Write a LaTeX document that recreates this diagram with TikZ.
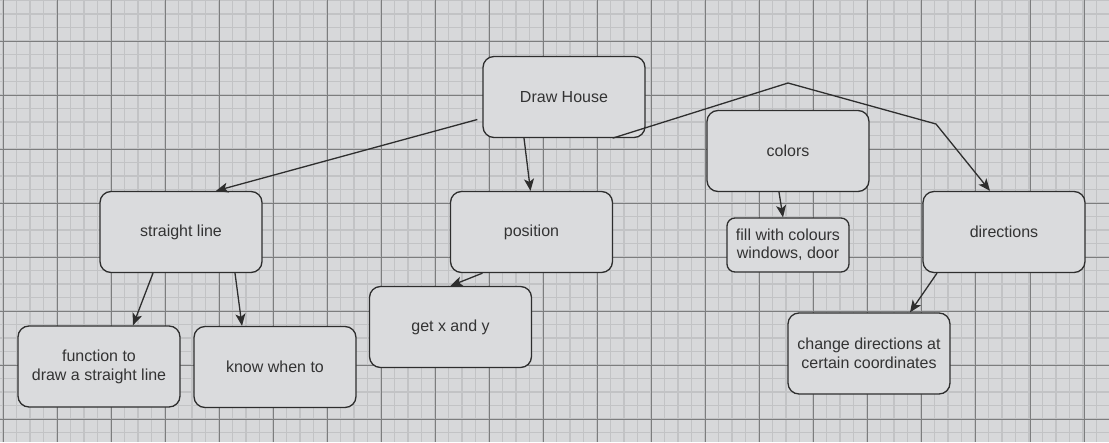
\documentclass[tikz,border=0pt]{standalone}
\usepackage{fontspec}
\setmainfont{Liberation Sans}
\usetikzlibrary{calc,arrows.meta}
\definecolor{bgc}{HTML}{D7D8DA}
\definecolor{boxc}{HTML}{DADBDD}
\definecolor{minorc}{HTML}{C2C3C5}
\definecolor{majorc}{HTML}{7C7D7E}
\definecolor{edgec}{HTML}{2E2E2E}
\definecolor{txtc}{HTML}{333333}
\tikzset{
  box/.style={draw=edgec, line width=1.3pt, fill=boxc, rounded corners=11pt,
    minimum width=162pt, minimum height=81pt, inner sep=0pt, align=center,
    text=txtc, font=\fontsize{16pt}{19pt}\selectfont},
  smallbox/.style={box, minimum width=122pt, minimum height=54pt, rounded corners=8pt,
    font=\fontsize{16pt}{18pt}\selectfont},
  conn/.style={draw=edgec, line width=1.3pt, -{Stealth[length=12pt,width=10pt,inset=3pt]}},
  minorline/.style={draw=minorc, line width=1.3pt},
  majorline/.style={draw=majorc, line width=0.9pt}
}
\begin{document}
\begin{tikzpicture}[x=1pt,y=-1pt]
\useasboundingbox (0,0) rectangle (1109,442);
\fill[bgc] (0,0) rectangle (1109,442);
% grid
\foreach \i in {0,...,82} { \draw[minorline] ({3+13.5*\i},0) -- ({3+13.5*\i},442); }
\foreach \i in {0,...,32} { \draw[minorline] (0,{0.5+13.5*\i}) -- (1109,{0.5+13.5*\i}); }
\foreach \i in {0,...,20} { \draw[majorline] ({3+54.05*\i},0) -- ({3+54.05*\i},442); }
\foreach \i in {0,...,7} { \draw[majorline] (0,{41+54*\i}) -- (1109,{41+54*\i}); }
% nodes
\node[box] (dh) at (564,97) {Draw House};
\node[box] (sl) at (181,232) {straight line};
\node[box] (pos) at (531.5,232) {position};
\node[box] (col) at (788,151) {colors};
\node[box] (dir) at (1004,232) {directions};
\node[smallbox] (fill) at (788,245) {fill with colours\\windows, door};
\node[box] (gxy) at (450.5,327) {get x and y};
\node[box] (fn) at (99,366.5) {function to\\draw a straight line};
\node[box] (kw) at (275,367) {know when to};
\node[box] (chg) at (869,353.5) {change directions at\\certain coordinates};
% connector coordinates
\coordinate (peak) at (788,83);
\coordinate (bend) at (936,124);
% connectors
\draw[conn] ($(dh.west)+(-5,22.5)$) -- ($(sl.north)+(35,0)$);
\draw[conn] ($(dh.south)+(-40,0)$) -- ($(pos.north)+(-1,0)$);
\draw[conn] ($(dh.south east)+(-33,0)$) -- (peak) -- (bend) -- ($(dir.north)+(-14,0)$);
\draw[conn] ($(col.south)+(-9,0)$) -- ($(fill.north)+(-5,0)$);
\draw[conn] ($(sl.south)+(-28,0)$) -- ($(fn.north)+(34,0)$);
\draw[conn] ($(sl.south)+(54,0)$) -- ($(kw.north)+(-33,0)$);
\draw[conn] ($(pos.south)+(-49,0)$) -- (gxy.north);
\draw[conn] ($(dir.south)+(-67,0)$) -- ($(chg.north)+(41,0)$);
\end{tikzpicture}
\end{document}
